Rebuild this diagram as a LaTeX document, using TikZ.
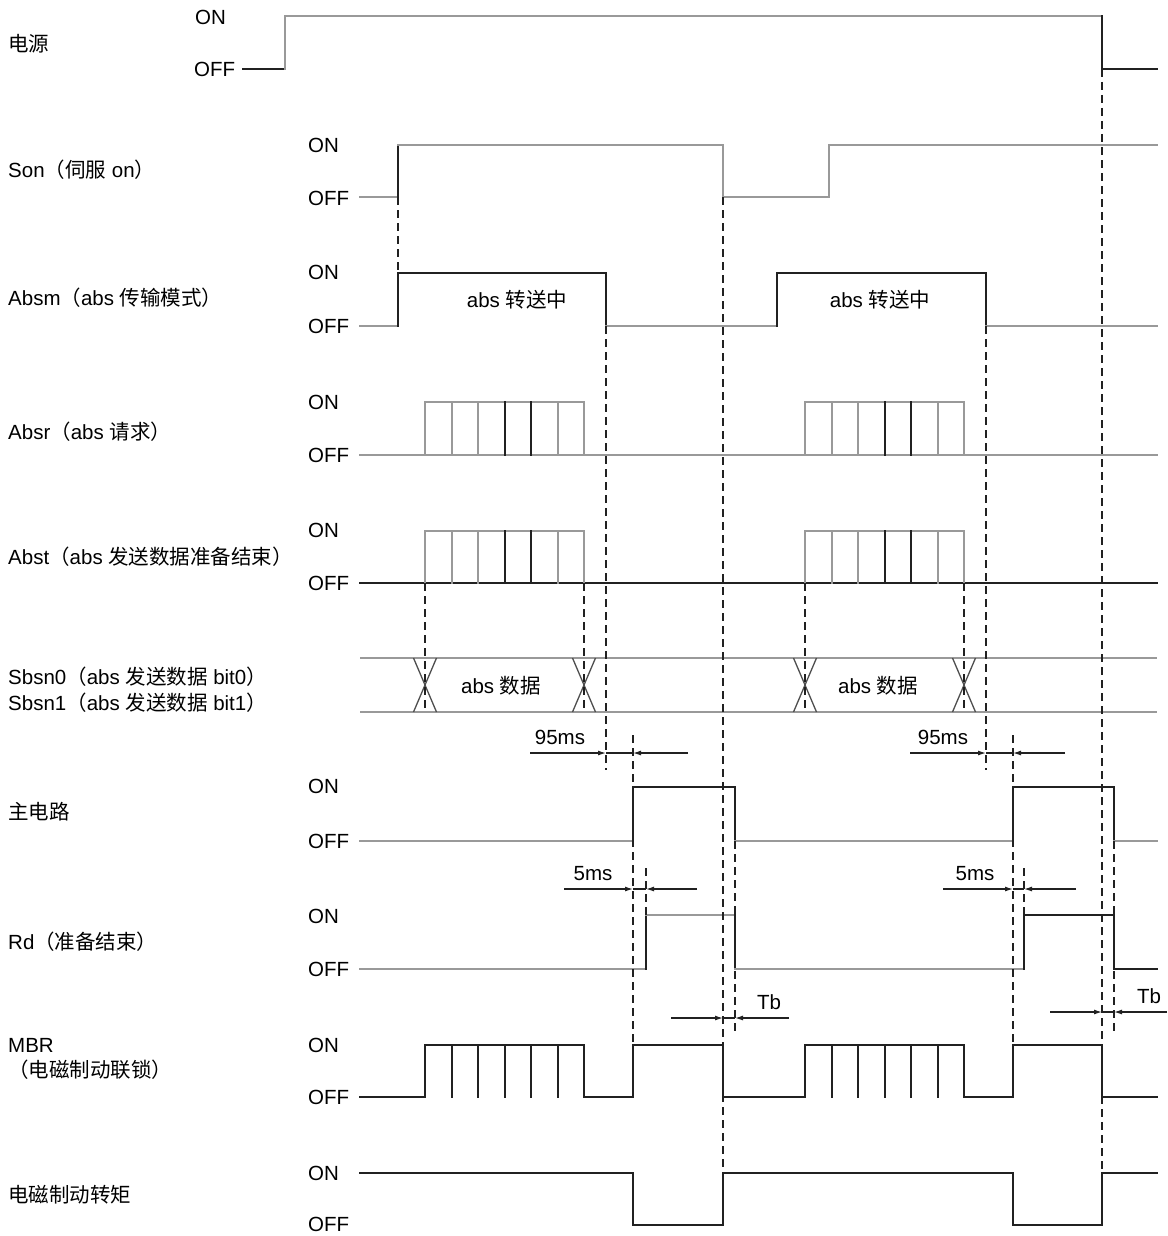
\documentclass[tikz,border=0pt]{standalone}
\usepackage{fontspec}
\setmainfont{Liberation Sans}
\newfontfamily\cjk{Noto Sans CJK SC}
\usetikzlibrary{arrows.meta}
\definecolor{lg}{gray}{0.6}
\definecolor{dk}{gray}{0.13}
\newcommand{\zh}[1]{{\cjk #1}}
\begin{document}
\begin{tikzpicture}[x=1pt,y=-1pt,
  every node/.style={inner sep=0pt, font=\fontsize{20.5}{24}\selectfont, text height=14.5pt, text depth=0pt},
  lbl/.style={anchor=west},
  st/.style={anchor=west},
  wg/.style={draw=lg, line width=1.6pt, line cap=rect},
  wd/.style={draw=dk, line width=1.5pt, line cap=rect},
  dsh/.style={draw=dk, line width=1.5pt, dash pattern=on 8pt off 5pt},
  dimln/.style={draw=dk, line width=1.2pt},
  dimarr/.style={dimln, -{Latex[length=8pt,width=5pt]}},
]
\fill[white] (0,0) rectangle (1167,1236);
\useasboundingbox (0,0) rectangle (1167,1236);

% ---------- signal labels ----------
\node[lbl] (l1) at (8,44) {\zh{电源}};
\node[lbl] (l2) at (8,170) {Son\zh{（伺服} on\zh{）}};
\node[lbl] (l3) at (8,298) {Absm\zh{（}abs \zh{传输模式）}};
\node[lbl] (l4) at (8,432) {Absr\zh{（}abs \zh{请求）}};
\node[lbl] (l5) at (8,557) {Abst\zh{（}abs \zh{发送数据准备结束）}};
\node[lbl] (l6a) at (8,677) {Sbsn0\zh{（}abs \zh{发送数据} bit0\zh{）}};
\node[lbl] (l6b) at (8,703) {Sbsn1\zh{（}abs \zh{发送数据} bit1\zh{）}};
\node[lbl] (l7) at (8,812) {\zh{主电路}};
\node[lbl] (l8) at (8,942) {Rd\zh{（准备结束）}};
\node[lbl] (l9a) at (8,1045) {MBR};
\node[lbl] (l9b) at (8,1070) {\zh{（电磁制动联锁）}};
\node[lbl] (l10) at (8,1195) {\zh{电磁制动转矩}};

% ---------- ON / OFF ----------
\node[st] (on1) at (195,17) {ON};
\node[st] (off1) at (194,69) {OFF};
\foreach \n/\yon/\yoff in {2/145/198, 3/272/326, 4/402/455, 5/530/583, 7/786/841, 8/916/969, 9/1045/1097, 10/1173/1224}{
  \node[st] (on\n) at (308,\yon) {ON};
  \node[st] (off\n) at (308,\yoff) {OFF};
}

% ---------- power ----------
\draw[wd] (243,69) -- (285,69);
\draw[wg] (285,69) -- (285,16) -- (1102,16);
\draw[wd] (1102,16) -- (1102,69) -- (1157,69);

% ---------- Son ----------
\draw[wg] (360,197) -- (398,197);
\draw[wd] (398,197) -- (398,145);
\draw[wg] (398,145) -- (723,145) -- (723,197) -- (829,197) -- (829,145) -- (1157,145);

% ---------- Absm ----------
\draw[wg] (360,326) -- (398,326);
\draw[wd] (398,326) -- (398,273) -- (606,273) -- (606,326);
\draw[wg] (606,326) -- (777,326);
\draw[wd] (777,326) -- (777,273) -- (986,273) -- (986,326);
\draw[wg] (986,326) -- (1157,326);
\node (t1) at (517,300) {abs \zh{转送中}};
\node (t2) at (880,300) {abs \zh{转送中}};

% ---------- Absr ----------
\draw[wg] (360,455) -- (1157,455);
\foreach \o in {425,805}{
  \draw[wg] (\o,455) -- (\o,402) -- ({\o+159},402) -- ({\o+159},455);
  \foreach \d/\s in {27/wg,53/wg,80/wd,106/wd,133/wg}
    \draw[\s] ({\o+\d},402) -- ({\o+\d},455);
}

% ---------- Abst ----------
\draw[wd] (360,583) -- (1157,583);
\foreach \o in {425,805}{
  \draw[wg] (\o,583) -- (\o,531) -- ({\o+159},531) -- ({\o+159},583);
  \foreach \d/\s in {27/wg,53/wg,80/wd,106/wd,133/wg}
    \draw[\s] ({\o+\d},531) -- ({\o+\d},583);
}

% ---------- Sbsn ----------
\draw[lg, line width=2.4pt] (360,658) -- (1157,658);
\draw[lg, line width=1.6pt] (360,712) -- (1157,712);
\foreach \c in {425,584,805,964}{
  \draw[dk!80, line width=1.3pt] ({\c-11.5},658) -- ({\c+11.5},712);
  \draw[dk!80, line width=1.3pt] ({\c-11.5},712) -- ({\c+11.5},658);
}
\node (t3) at (501,686) {abs \zh{数据}};
\node (t4) at (878,686) {abs \zh{数据}};

% ---------- main circuit ----------
\draw[wg] (360,841) -- (633,841);
\draw[wd] (633,841) -- (633,787) -- (735,787) -- (735,841);
\draw[wg] (735,841) -- (1013,841);
\draw[wd] (1013,841) -- (1013,787) -- (1114,787) -- (1114,841);
\draw[wg] (1114,841) -- (1157,841);

% ---------- Rd ----------
\draw[wg] (360,969) -- (646,969);
\draw[wd] (646,969) -- (646,915);
\draw[wg] (646,915) -- (735,915);
\draw[wd] (735,915) -- (735,969);
\draw[wg] (735,969) -- (1024,969);
\draw[wd] (1024,969) -- (1024,915) -- (1114,915) -- (1114,969) -- (1157,969);

% ---------- MBR ----------
\draw[wd] (360,1097) -- (425,1097) -- (425,1045) -- (584,1045) -- (584,1097) -- (633,1097)
  -- (633,1045) -- (723,1045) -- (723,1097) -- (805,1097) -- (805,1045) -- (964,1045)
  -- (964,1097) -- (1013,1097) -- (1013,1045) -- (1102,1045) -- (1102,1097) -- (1157,1097);
\foreach \o in {425,805}{
  \foreach \d in {27,53,80,106,133}
    \draw[wd] ({\o+\d},1045) -- ({\o+\d},1097);
}

% ---------- brake torque ----------
\draw[wd] (360,1173) -- (633,1173) -- (633,1225) -- (723,1225) -- (723,1173) -- (1013,1173)
  -- (1013,1225) -- (1102,1225) -- (1102,1173) -- (1157,1173);

% ---------- dashed guides ----------
\draw[dsh] (398,197) -- (398,273);
\draw[dsh] (606,326) -- (606,770);
\draw[dsh] (986,326) -- (986,770);
\draw[dsh] (723,197) -- (723,1173);
\draw[dsh] (1102,69) -- (1102,1173);
\foreach \c in {425,584,805,964}
  \draw[dsh] (\c,583) -- (\c,712);
\draw[dsh] (633,735) -- (633,1045);
\draw[dsh] (1013,735) -- (1013,1045);
\draw[dsh] (735,841) -- (735,1032);
\draw[dsh] (1114,841) -- (1114,1032);
\draw[dsh] (646,868) -- (646,969);
\draw[dsh] (1024,868) -- (1024,969);

% ---------- dimensions ----------
% 95ms left
\coordinate (a1) at (530,753); \coordinate (a2) at (606,753);
\coordinate (a3) at (633,753); \coordinate (a4) at (688,753);
\draw[dimarr] (a1) -- (a2); \draw[dimln] (a2) -- (a3); \draw[dimarr] (a4) -- (a3);
\node (d1) at (560,737) {95ms};
% 95ms right
\coordinate (b1) at (910,753); \coordinate (b2) at (986,753);
\coordinate (b3) at (1013,753); \coordinate (b4) at (1065,753);
\draw[dimarr] (b1) -- (b2); \draw[dimln] (b2) -- (b3); \draw[dimarr] (b4) -- (b3);
\node (d2) at (943,737) {95ms};
% 5ms left
\coordinate (c1) at (564,889); \coordinate (c2) at (633,889);
\coordinate (c3) at (646,889); \coordinate (c4) at (697,889);
\draw[dimarr] (c1) -- (c2); \draw[dimln] (c2) -- (c3); \draw[dimarr] (c4) -- (c3);
\node (d3) at (593,873) {5ms};
% 5ms right
\coordinate (e1) at (943,889); \coordinate (e2) at (1013,889);
\coordinate (e3) at (1024,889); \coordinate (e4) at (1076,889);
\draw[dimarr] (e1) -- (e2); \draw[dimln] (e2) -- (e3); \draw[dimarr] (e4) -- (e3);
\node (d4) at (975,873) {5ms};
% Tb left
\coordinate (f1) at (671,1018); \coordinate (f2) at (723,1018);
\coordinate (f3) at (735,1018); \coordinate (f4) at (789,1018);
\draw[dimarr] (f1) -- (f2); \draw[dimln] (f2) -- (f3); \draw[dimarr] (f4) -- (f3);
\node (d5) at (769,1002) {Tb};
% Tb right
\coordinate (g1) at (1050,1012); \coordinate (g2) at (1102,1012);
\coordinate (g3) at (1114,1012); \coordinate (g4) at (1167,1012);
\draw[dimarr] (g1) -- (g2); \draw[dimln] (g2) -- (g3); \draw[dimarr] (g4) -- (g3);
\node (d6) at (1149,996) {Tb};
\end{tikzpicture}
\end{document}
